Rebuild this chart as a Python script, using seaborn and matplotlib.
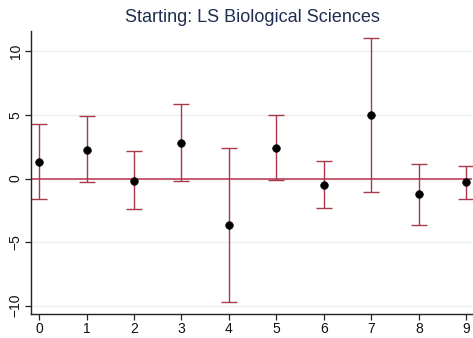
import matplotlib
matplotlib.use("Agg")
import matplotlib.pyplot as plt
import seaborn as sns
import pandas as pd

periods = [0, 1, 2, 3, 4, 5, 6, 7, 8, 9]
estimates = [1.31, 2.28, -0.16, 2.83, -3.62, 2.44, -0.50, 4.99, -1.24, -0.31]
ci_upper = [4.31, 4.90, 2.13, 5.85, 2.44, 4.99, 1.34, 11.05, 1.18, 0.97]
ci_lower = [-1.63, -0.29, -2.42, -0.16, -9.69, -0.08, -2.34, -1.08, -3.65, -1.60]
y_ticks = [-10, -5, 0, 5, 10]
title = "Starting: LS Biological Sciences"

df = pd.DataFrame({"period": periods, "est": estimates, "hi": ci_upper, "lo": ci_lower})

sns.set_theme(style="white")
plt.rcParams["font.family"] = ["Liberation Sans", "DejaVu Sans"]

fig = plt.figure(figsize=(4.73, 3.38), dpi=100)
ax = fig.add_axes([31 / 473, 1 - 314 / 338, 441 / 473, (314 - 31) / 338])

for y in y_ticks:
    ax.axhline(y, color="#eaf0f0", lw=1.0, zorder=0)

ax.axhline(0, color="#c4506a", lw=1.3, zorder=1)

ax.errorbar(df["period"], df["est"],
            yerr=[df["est"] - df["lo"], df["hi"] - df["est"]],
            fmt="none", ecolor="#a8384c", elinewidth=1.0, capsize=5.5,
            capthick=1.0, zorder=2)

sns.scatterplot(data=df, x="period", y="est", color="black", s=30,
                edgecolor="black", linewidth=0.5, ax=ax, zorder=3, legend=False)

ax.set_xlim(-0.17, 9.12)
ax.set_ylim(-10.65, 11.6)
ax.set_xticks(periods)
ax.set_yticks(y_ticks)
ax.set_xlabel("")
ax.set_ylabel("")

for s in ["top", "right"]:
    ax.spines[s].set_visible(False)
for s in ["left", "bottom"]:
    ax.spines[s].set_color("#222222")
    ax.spines[s].set_linewidth(1.0)

ax.tick_params(axis="both", which="both", direction="out", length=4, width=0.9,
               color="#222222", labelsize=10, labelcolor="#111111", pad=2,
               left=True, bottom=True)
for lab in ax.get_yticklabels():
    lab.set_rotation(90)
    lab.set_va("center")

fig.text(252 / 473, 1 - 17 / 338, title, ha="center", va="center",
         fontsize=13, color="#1f2d50")

fig.savefig("out.png", dpi=100)
